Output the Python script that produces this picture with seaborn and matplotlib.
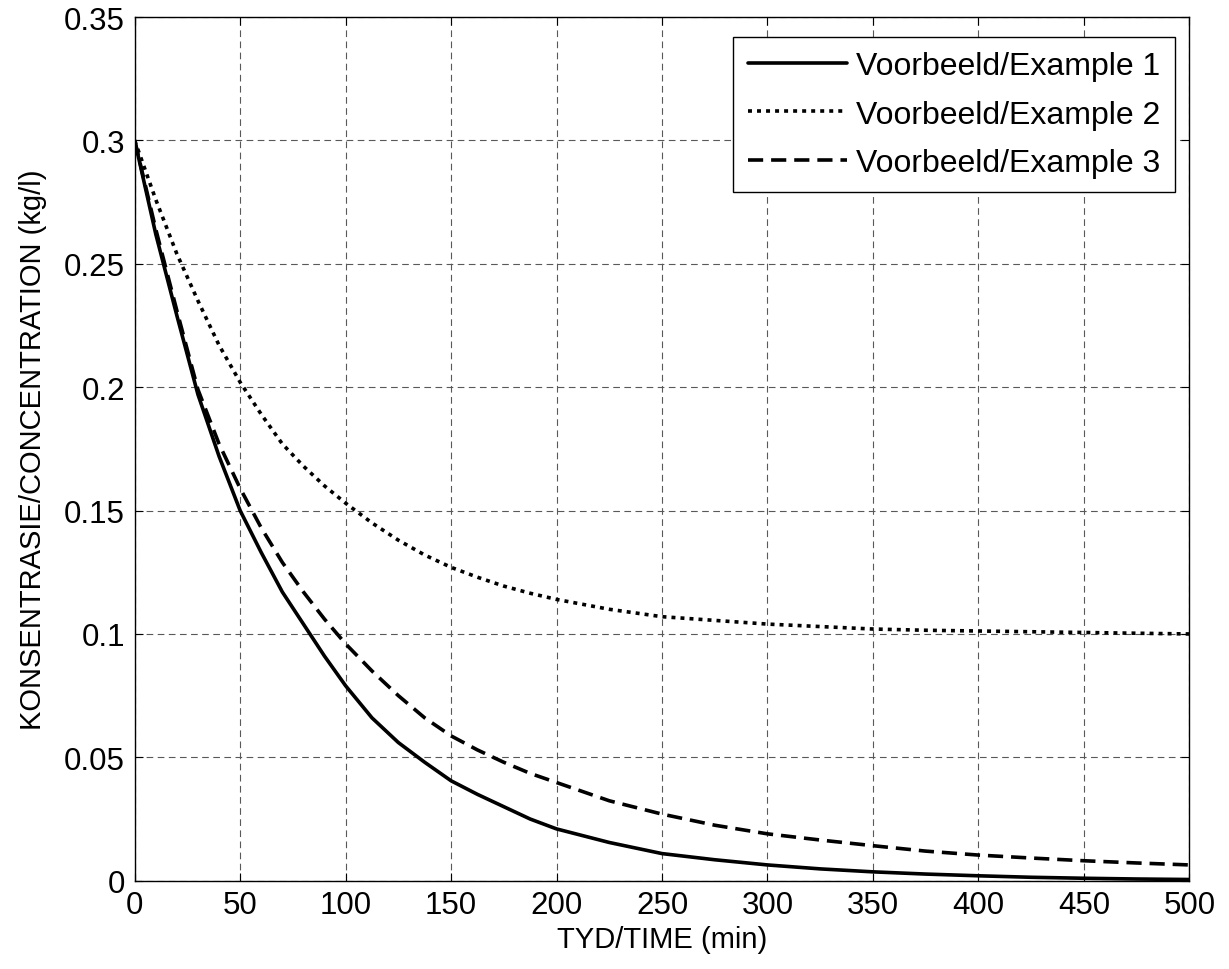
import numpy as np
import pandas as pd
import matplotlib
matplotlib.use("Agg")
import matplotlib.pyplot as plt
import seaborn as sns

# ---- values ----------------------------------------------------------------
time_min = [0, 10, 20, 30, 40, 50, 60, 70, 80, 90, 100,
            112.5, 125, 137.5, 150, 162.5, 175, 187.5, 200,
            225, 250, 275, 300, 325, 350, 375, 400, 425, 450, 475, 500]

example_1 = [0.300, 0.262, 0.229, 0.197, 0.172, 0.150, 0.133, 0.117, 0.104, 0.091, 0.079,
             0.066, 0.056, 0.048, 0.0405, 0.035, 0.030, 0.025, 0.021,
             0.0155, 0.011, 0.0085, 0.0064, 0.0048, 0.0036, 0.0027, 0.0020, 0.0014, 0.0010, 0.0007, 0.0005]

example_2 = [0.300, 0.276, 0.254, 0.235, 0.217, 0.202, 0.189, 0.177, 0.168, 0.160, 0.153,
             0.145, 0.138, 0.132, 0.127, 0.123, 0.1194, 0.1165, 0.114,
             0.110, 0.107, 0.1055, 0.104, 0.103, 0.102, 0.1015, 0.1012, 0.1009, 0.1006, 0.1003, 0.1000]

example_3 = [0.300, 0.264, 0.231, 0.199, 0.177, 0.159, 0.143, 0.129, 0.117, 0.106, 0.096,
             0.085, 0.075, 0.066, 0.0587, 0.053, 0.048, 0.0435, 0.0398,
             0.0324, 0.027, 0.0225, 0.019, 0.0165, 0.0142, 0.012, 0.0104, 0.0092, 0.0081, 0.0072, 0.0064]

series_names = ["Voorbeeld/Example 1", "Voorbeeld/Example 2", "Voorbeeld/Example 3"]

x_ticks = [0, 50, 100, 150, 200, 250, 300, 350, 400, 450, 500]
y_ticks = [0, 0.05, 0.1, 0.15, 0.2, 0.25, 0.3, 0.35]
y_tick_labels = ["0", "0.05", "0.1", "0.15", "0.2", "0.25", "0.3", "0.35"]

df = pd.DataFrame({
    "t": time_min * 3,
    "c": example_1 + example_2 + example_3,
    "series": np.repeat(series_names, len(time_min)),
})

# ---- style ------------------------------------------------------------------
sns.set_style("ticks")
plt.rcParams["font.family"] = ["Liberation Sans", "DejaVu Sans"]
plt.rcParams["font.size"] = 21
plt.rcParams["text.color"] = "black"
plt.rcParams["axes.labelcolor"] = "black"

fig, ax = plt.subplots(figsize=(12.29, 9.70), dpi=100)
fig.subplots_adjust(left=0.1096, right=0.9677, bottom=0.091, top=0.9814)

sns.lineplot(
    data=df, x="t", y="c", style="series", hue="series",
    palette=["black"] * 3,
    dashes={series_names[0]: "", series_names[1]: (1.1, 1.4), series_names[2]: (4.2, 2.2)},
    linewidth=2.6, ax=ax, sort=False,
)

ax.set_xlim(0, 500)
ax.set_ylim(0, 0.35)
ax.set_xticks(x_ticks)
ax.set_xticklabels([str(v) for v in x_ticks])
ax.set_yticks(y_ticks)
ax.set_yticklabels(y_tick_labels)
ax.tick_params(direction="in", length=6, width=0.8, top=True, right=True,
               labelsize=22.5, pad=7, colors="black")

ax.grid(True, linestyle=(0, (6, 4)), color="0.35", linewidth=0.8)
for s in ax.spines.values():
    s.set_color("black")
    s.set_linewidth(1.0)

ax.set_xlabel("TYD/TIME (min)", fontsize=21, labelpad=3)
ax.set_ylabel("KONSENTRASIE/CONCENTRATION (kg/l)", fontsize=21, labelpad=12)

leg = ax.legend(loc="upper right", bbox_to_anchor=(0.9864, 0.9768),
                fontsize=23, frameon=True, fancybox=False,
                framealpha=1, edgecolor="black", handlelength=3.1,
                borderaxespad=0.0, labelspacing=0.57, handletextpad=0.3,
                borderpad=0.45)
leg.get_frame().set_linewidth(1.0)
for txt in leg.get_texts():
    txt.set_color("black")

fig.savefig("out.png", dpi=100)
